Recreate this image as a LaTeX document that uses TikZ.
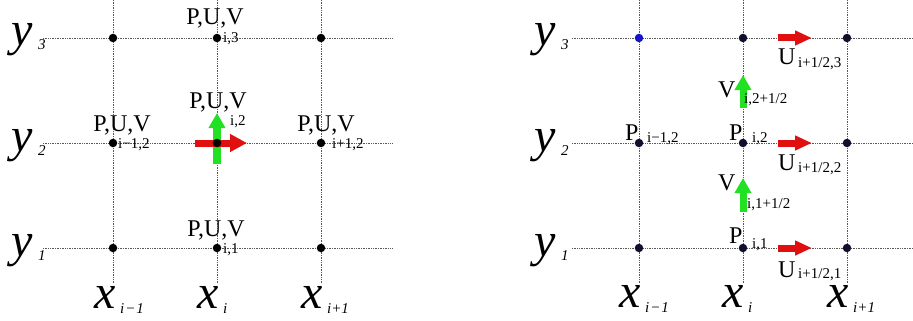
\documentclass[tikz,border=0pt]{standalone}
\usepackage{fontspec}
\setmainfont{Liberation Serif}[ItalicFont={Liberation Serif Italic}]
\usetikzlibrary{arrows.meta}
\definecolor{arrred}{HTML}{E01010}
\definecolor{arrgreen}{HTML}{22E022}
\definecolor{navydot}{HTML}{10102E}
\definecolor{bluedot}{HTML}{1515C8}
\tikzset{
  gridline/.style={densely dotted, draw=black!65, line width=0.7pt},
  dot/.style={circle, fill=black, inner sep=0pt, minimum size=8.5pt},
  rdot/.style={circle, fill=navydot, inner sep=0pt, minimum size=8.5pt},
  bdot/.style={circle, fill=bluedot, inner sep=0pt, minimum size=8.5pt},
  big/.style={inner sep=0pt, anchor=base west, text height=21pt, text depth=10pt, font=\fontsize{48}{48}\selectfont\itshape},
  bigsub/.style={inner sep=0pt, anchor=base west, text height=10pt, text depth=1pt, font=\fontsize{15}{15}\selectfont\itshape},
  lab/.style={inner sep=0pt, anchor=base, text height=16pt, text depth=0pt, font=\fontsize{24}{24}\selectfont},
  labw/.style={inner sep=0pt, anchor=base west, text height=16pt, text depth=0pt, font=\fontsize{24}{24}\selectfont},
  sub/.style={inner sep=0pt, anchor=base west, text height=10pt, text depth=1pt, font=\fontsize{15}{15}\selectfont},
  redarrow/.style={draw=arrred, line width=7pt, -{Triangle[length=17pt,width=17pt,fill=arrred]}},
  greenarrow/.style={draw=arrgreen, line width=8pt, -{Triangle[length=15pt,width=16pt,fill=arrgreen]}},
}
\begin{document}
\begin{tikzpicture}[x=1pt,y=-1pt]
\useasboundingbox (0,0) rectangle (913,321);
% ---------------- left panel grid
\foreach \yy in {38,143,248} \draw[gridline] (43,\yy) -- (393,\yy);
\foreach \xx in {113,217,321} \draw[gridline] (\xx,0) -- (\xx,283);
% ---------------- right panel grid
\foreach \yy in {38,143,248} \draw[gridline] (572,\yy) -- (913,\yy);
\foreach \xx in {639,743,847} \draw[gridline] (\xx,0) -- (\xx,283);

% ---------------- left arrows
\coordinate (g1a) at (217,164);
\coordinate (g1b) at (217,113);
\coordinate (r1a) at (195,143);
\coordinate (r1b) at (247,143);
\draw[greenarrow] (g1a) -- (g1b);
\draw[redarrow] (r1a) -- (r1b);

% ---------------- left dots
\node[dot] (L13) at (113,38) {};
\node[dot] (L23) at (217,38) {};
\node[dot] (L33) at (321,38) {};
\node[dot] (L12) at (113,143) {};
\node[dot] (L22) at (217,143) {};
\node[dot] (L32) at (321,143) {};
\node[dot] (L11) at (113,248) {};
\node[dot] (L21) at (217,248) {};
\node[dot] (L31) at (321,248) {};

% ---------------- left axis labels
\node[big] (ly3) at (11,46) {y};
\node[bigsub] (ly3s) at (38,50) {3};
\node[big] (ly2) at (11,151) {y};
\node[bigsub] (ly2s) at (38,155) {2};
\node[big] (ly1) at (11,256) {y};
\node[bigsub] (ly1s) at (38,260) {1};
\node[big] (lx1) at (94,308) {x};
\node[bigsub] (lx1s) at (120,313) {i\kern1pt−\kern1pt1};
\node[big] (lx2) at (197,308) {x};
\node[bigsub] (lx2s) at (223,313) {i};
\node[big] (lx3) at (301,308) {x};
\node[bigsub] (lx3s) at (327,313) {i+1};

% ---------------- left point labels
\node[lab] (p23) at (215,25) {P,U,V};
\node[sub] (p23s) at (223,43) {i,3};
\node[lab] (p22) at (218,108) {P,U,V};
\node[sub] (p22s) at (230,125) {i,2};
\node[lab] (p12) at (122,131) {P,U,V};
\node[sub] (p12s) at (118,148) {i−1,2};
\node[lab] (p32) at (326,131) {P,U,V};
\node[sub] (p32s) at (332,148) {i+1,2};
\node[lab] (p21) at (216,236) {P,U,V};
\node[sub] (p21s) at (223,253) {i,1};

% ---------------- right arrows
\coordinate (ga1) at (743,108);
\coordinate (gb1) at (743,75);
\coordinate (ga2) at (743,212);
\coordinate (gb2) at (743,178);
\draw[greenarrow, line width=7pt] (ga1) -- (gb1);
\draw[greenarrow, line width=7pt] (ga2) -- (gb2);
\foreach \yy/\nm in {38/ra3,143/ra2,248/ra1}{
  \coordinate (\nm a) at (778,\yy);
  \coordinate (\nm b) at (812,\yy);
  \draw[redarrow, -{Triangle[length=17pt,width=14pt,fill=arrred]}] (\nm a) -- (\nm b);
}

% ---------------- right dots
\node[bdot] (R13) at (639,38) {};
\node[rdot] (R23) at (743,38) {};
\node[rdot] (R33) at (847,38) {};
\node[rdot] (R12) at (639,143) {};
\node[rdot] (R22) at (743,143) {};
\node[rdot] (R32) at (847,143) {};
\node[rdot] (R11) at (639,248) {};
\node[rdot] (R21) at (743,248) {};
\node[rdot] (R31) at (847,248) {};

% ---------------- right axis labels
\node[big] (ry3) at (534,46) {y};
\node[bigsub] (ry3s) at (561,50) {3};
\node[big] (ry2) at (534,151) {y};
\node[bigsub] (ry2s) at (561,155) {2};
\node[big] (ry1) at (534,256) {y};
\node[bigsub] (ry1s) at (561,260) {1};
\node[big] (rx1) at (619,307) {x};
\node[bigsub] (rx1s) at (645,312) {i\kern1pt−\kern1pt1};
\node[big] (rx2) at (722,307) {x};
\node[bigsub] (rx2s) at (748,312) {i};
\node[big] (rx3) at (827,307) {x};
\node[bigsub] (rx3s) at (853,312) {i+1};

% ---------------- right point labels
\node[labw] (u3) at (778,65) {U};
\node[sub] (u3s) at (798,67) {i+1/2,3};
\node[labw] (v2) at (718,97) {V};
\node[sub] (v2s) at (744,103) {i,2+1/2};
\node[labw] (pr12) at (625,140) {P};
\node[sub] (pr12s) at (647,142) {i−1,2};
\node[labw] (pr22) at (729,140) {P};
\node[sub] (pr22s) at (752,142) {i,2};
\node[labw] (u2) at (778,170) {U};
\node[sub] (u2s) at (798,172) {i+1/2,2};
\node[labw] (v1) at (718,190) {V};
\node[sub] (v1s) at (747,208) {i,1+1/2};
\node[labw] (pr21) at (729,243) {P};
\node[sub] (pr21s) at (752,248) {i,1};
\node[labw] (u1) at (778,277) {U};
\node[sub] (u1s) at (798,278) {i+1/2,1};
\end{tikzpicture}
\end{document}
